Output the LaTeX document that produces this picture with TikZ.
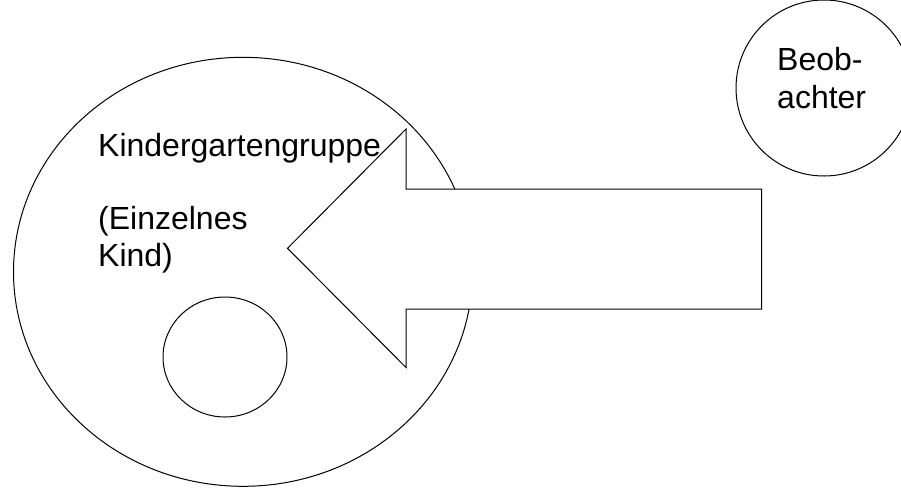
\documentclass[tikz,border=0pt]{standalone}
\usepackage{fontspec}
\setmainfont{Liberation Sans}
\tikzset{
  outline/.style={draw=black, line width=1pt},
  lbl/.style={inner sep=0pt, anchor=base west, font=\fontsize{32}{38}\selectfont},
}
\begin{document}
\begin{tikzpicture}[x=1pt,y=-1pt]
\useasboundingbox (0,0) rectangle (901,488);
\clip (0,0) rectangle (901,488);
\fill[white] (0,0) rectangle (901,488);
\coordinate (group) at (243,271.8);
\coordinate (child) at (225,357);
\coordinate (observer) at (824,88);
% group ellipse
\draw[outline] (group) ellipse [x radius=229.5pt, y radius=214.5pt];
% single child
\draw[outline] (child) ellipse [x radius=62pt, y radius=60pt];
% observer
\draw[outline] (observer) circle [radius=88pt];
% big arrow
\draw[outline, fill=white] (761.5,189) -- (406,189) -- (406,129) -- (287.5,248.3) -- (406,367.5) -- (406,309) -- (761.5,309) -- cycle;
% texts
\node[lbl] (t1) at (98,156.7) {Kindergartengruppe};
\node[lbl] (t2) at (98,229) {(Einzelnes};
\node[lbl] (t3) at (98,266.7) {Kind)};
\node[lbl] (b1) at (777,70) {Beob-};
\node[lbl] (b2) at (777,108) {achter};
\end{tikzpicture}
\end{document}
